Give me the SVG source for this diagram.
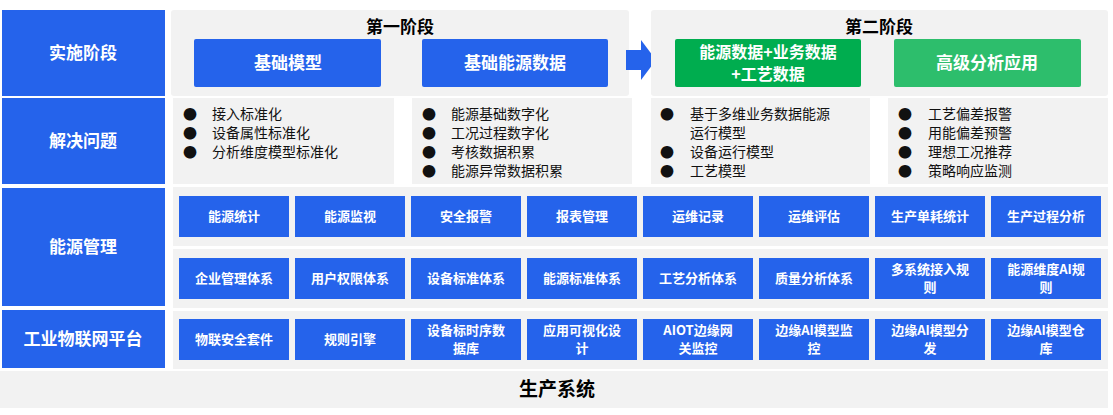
<svg xmlns="http://www.w3.org/2000/svg" width="1113" height="415" viewBox="0 0 1113 415">
<style>
text{font-family:"Noto Sans CJK SC","Liberation Sans",sans-serif}
.side{fill:#2563EB}
.st{fill:#fff;font-size:17px;font-weight:bold;text-anchor:middle}
.g{fill:#F2F2F2}
.c{fill:#2563EB}
.ct{fill:#fff;font-size:13px;font-weight:bold;text-anchor:middle}
.h{fill:#000;font-size:17px;font-weight:bold;text-anchor:middle}
.bt{fill:#fff;font-size:17px;font-weight:bold;text-anchor:middle}
.li{fill:#111;font-size:14px}
</style>
<rect width="1113" height="415" fill="#fff"/>
<g id="left">
<rect class="side" x="2" y="10" width="163" height="86"/><text class="st" x="83" y="59">实施阶段</text>
<rect class="side" x="2" y="98" width="163" height="86"/><text class="st" x="83" y="147">解决问题</text>
<rect class="side" x="2" y="188" width="163" height="118"/><text class="st" x="83" y="253">能源管理</text>
<rect class="side" x="2" y="310" width="163" height="58"/><text class="st" x="83" y="345">工业物联网平台</text>
</g>
<g id="stage1">
<rect class="g" x="171" y="10" width="458" height="86" rx="3"/>
<text class="h" x="400" y="33">第一阶段</text>
<rect fill="#2563EB" x="194" y="39" width="187" height="48" rx="2"/><text class="bt" x="288" y="69">基础模型</text>
<rect fill="#2563EB" x="422" y="39" width="186" height="48" rx="2"/><text class="bt" x="515" y="69">基础能源数据</text>
</g>
<g id="connectors"><polygon fill="#2563EB" points="626,50 641,50 641,40 656,60 641,80 641,70 626,70"/></g>
<g id="stage2">
<rect class="g" x="651" y="10" width="457" height="86" rx="3"/>
<text class="h" x="879" y="33">第二阶段</text>
<rect fill="#00AD4F" x="675" y="39" width="186" height="48" rx="2"/>
<text class="bt" x="768" y="58" style="font-size:16px">能源数据+业务数据</text><text class="bt" x="768" y="80" style="font-size:16px">+工艺数据</text>
<rect fill="#2DBE6C" x="894" y="39" width="187" height="48" rx="2"/><text class="bt" x="987" y="69">高级分析应用</text>
</g>
<g id="problems">
<rect class="g" x="173" y="98" width="221" height="86"/>
<rect class="g" x="412" y="98" width="220" height="86"/>
<rect class="g" x="651" y="98" width="219" height="86"/>
<rect class="g" x="888" y="98" width="220" height="86"/>
<g class="li">
<text x="183" y="119">●</text><text x="212" y="119">接入标准化</text>
<text x="183" y="138">●</text><text x="212" y="138">设备属性标准化</text>
<text x="183" y="157">●</text><text x="212" y="157">分析维度模型标准化</text>
<text x="422" y="119">●</text><text x="451" y="119">能源基础数字化</text>
<text x="422" y="138">●</text><text x="451" y="138">工况过程数字化</text>
<text x="422" y="157">●</text><text x="451" y="157">考核数据积累</text>
<text x="422" y="176">●</text><text x="451" y="176">能源异常数据积累</text>
<text x="660" y="119">●</text><text x="690" y="119">基于多维业务数据能源</text>
<text x="690" y="138">运行模型</text>
<text x="660" y="157">●</text><text x="690" y="157">设备运行模型</text>
<text x="660" y="176">●</text><text x="690" y="176">工艺模型</text>
<text x="898" y="119">●</text><text x="928" y="119">工艺偏差报警</text>
<text x="898" y="138">●</text><text x="928" y="138">用能偏差预警</text>
<text x="898" y="157">●</text><text x="928" y="157">理想工况推荐</text>
<text x="898" y="176">●</text><text x="928" y="176">策略响应监测</text>
</g>
</g>
<g id="energy">
<rect class="g" x="173" y="187" width="935" height="59"/>
<rect class="g" x="173" y="249" width="935" height="59"/>
<rect class="g" x="173" y="311" width="935" height="58"/>
<g id="row1">
<rect class="c" x="179" y="196" width="110" height="41"/><text class="ct" x="234" y="221">能源统计</text>
<rect class="c" x="295" y="196" width="110" height="41"/><text class="ct" x="350" y="221">能源监视</text>
<rect class="c" x="411" y="196" width="110" height="41"/><text class="ct" x="466" y="221">安全报警</text>
<rect class="c" x="527" y="196" width="110" height="41"/><text class="ct" x="582" y="221">报表管理</text>
<rect class="c" x="643" y="196" width="110" height="41"/><text class="ct" x="698" y="221">运维记录</text>
<rect class="c" x="759" y="196" width="110" height="41"/><text class="ct" x="814" y="221">运维评估</text>
<rect class="c" x="875" y="196" width="110" height="41"/><text class="ct" x="930" y="221">生产单耗统计</text>
<rect class="c" x="991" y="196" width="110" height="41"/><text class="ct" x="1046" y="221">生产过程分析</text>
</g>
<g id="row2">
<rect class="c" x="179" y="258" width="110" height="41"/><text class="ct" x="234" y="283">企业管理体系</text>
<rect class="c" x="295" y="258" width="110" height="41"/><text class="ct" x="350" y="283">用户权限体系</text>
<rect class="c" x="411" y="258" width="110" height="41"/><text class="ct" x="466" y="283">设备标准体系</text>
<rect class="c" x="527" y="258" width="110" height="41"/><text class="ct" x="582" y="283">能源标准体系</text>
<rect class="c" x="643" y="258" width="110" height="41"/><text class="ct" x="698" y="283">工艺分析体系</text>
<rect class="c" x="759" y="258" width="110" height="41"/><text class="ct" x="814" y="283">质量分析体系</text>
<rect class="c" x="875" y="258" width="110" height="41"/><text class="ct" x="930" y="274">多系统接入规</text><text class="ct" x="930" y="292">则</text>
<rect class="c" x="991" y="258" width="110" height="41"/><text class="ct" x="1046" y="274">能源维度AI规</text><text class="ct" x="1046" y="292">则</text>
</g>
</g>
<g id="iot">
<rect class="c" x="179" y="319" width="110" height="41"/><text class="ct" x="234" y="344">物联安全套件</text>
<rect class="c" x="295" y="319" width="110" height="41"/><text class="ct" x="350" y="344">规则引擎</text>
<rect class="c" x="411" y="319" width="110" height="41"/><text class="ct" x="466" y="335">设备标时序数</text><text class="ct" x="466" y="353">据库</text>
<rect class="c" x="527" y="319" width="110" height="41"/><text class="ct" x="582" y="335">应用可视化设</text><text class="ct" x="582" y="353">计</text>
<rect class="c" x="643" y="319" width="110" height="41"/><text class="ct" x="698" y="335">AIOT边缘网</text><text class="ct" x="698" y="353">关监控</text>
<rect class="c" x="759" y="319" width="110" height="41"/><text class="ct" x="814" y="335">边缘AI模型监</text><text class="ct" x="814" y="353">控</text>
<rect class="c" x="875" y="319" width="110" height="41"/><text class="ct" x="930" y="335">边缘AI模型分</text><text class="ct" x="930" y="353">发</text>
<rect class="c" x="991" y="319" width="110" height="41"/><text class="ct" x="1046" y="335">边缘AI模型仓</text><text class="ct" x="1046" y="353">库</text>
</g>
<g id="production">
<rect class="g" x="0" y="371" width="1108" height="37"/>
<text class="h" x="557" y="396" style="font-size:19px">生产系统</text>
</g>
</svg>
